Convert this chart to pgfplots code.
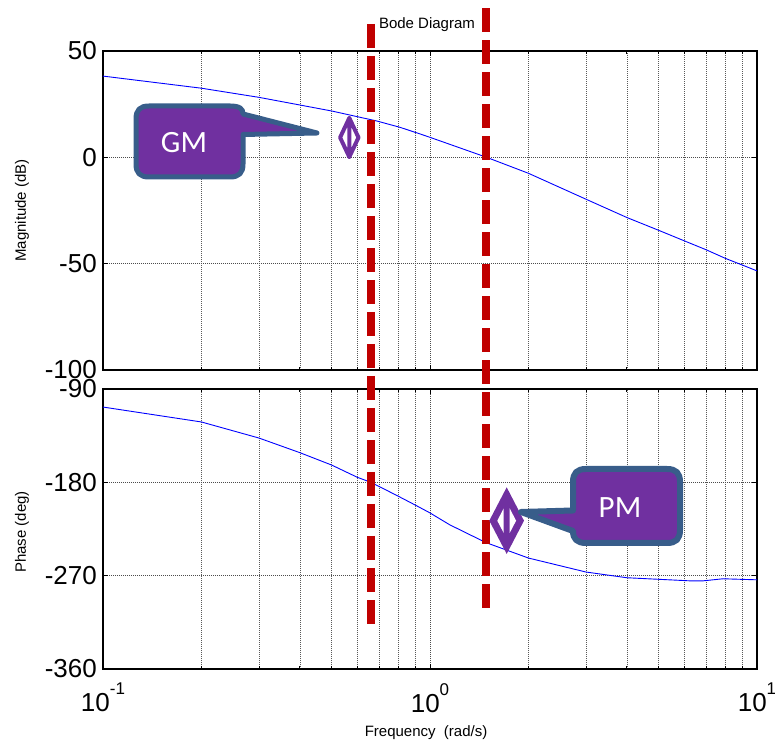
\documentclass[border=0pt]{standalone}
\usepackage{fontspec}
\setmainfont{Liberation Sans}
\newfontfamily\calibri{Carlito}
\usepackage{pgfplots}
\pgfplotsset{compat=1.18}
\definecolor{bodeblue}{RGB}{0,0,255}
\definecolor{marginred}{RGB}{192,0,0}
\definecolor{callfill}{RGB}{112,48,160}
\definecolor{callborder}{RGB}{56,93,138}
\newcommand\tenpow[1]{10\raisebox{17bp}{\fontsize{17bp}{17bp}\selectfont #1}}

\begin{document}
\begin{tikzpicture}
\useasboundingbox (0,0) rectangle (775bp,745bp);

% ---------- magnitude ----------
\begin{axis}[
  scale only axis, width=654bp, xmode=log, xmin=0.1, xmax=10,
  xtick={0.1,1,10},
  minor xtick={0.2,0.3,0.4,0.5,0.6,0.7,0.8,0.9,2,3,4,5,6,7,8,9},
  grid=both,
  major grid style={black!70, line width=0.7bp, dash pattern=on 1bp off 1bp},
  minor grid style={black!65, line width=0.7bp, dash pattern=on 1bp off 1bp},
  axis line style={line width=1.5bp},
  major tick length=5bp, minor tick length=3bp,
  tick style={black, line width=0.8bp},
  tick align=inside,
  tick label style={font=\fontsize{26bp}{26bp}\selectfont},
  yticklabel style={anchor=east, inner sep=0pt, xshift=-6bp},
  label style={font=\fontsize{15bp}{15bp}\selectfont},
  at={(103bp,375bp)}, anchor=south west, height=319bp,
  ymin=-100, ymax=50, ytick={-100,-50,0,50}, yticklabels={-100,-50,0,50},
  xticklabels={,,},
  ylabel={Magnitude (dB)},
  ylabel style={at={(axis description cs:-0.124,0.5)}, anchor=center},
  title={Bode Diagram},
  title style={at={(axis description cs:0.4954,1.063)}, anchor=center, font=\fontsize{15bp}{15bp}\selectfont},
]
\addplot[bodeblue, line width=0.9bp] coordinates {
 (0.1,38.2) (0.2,32.5) (0.3,28.2) (0.4,24.6) (0.5,21.8) (0.6,19.1)
 (0.687,17.1) (0.81,14.1) (0.932,11.0) (1.0,9.4) (1.49,0) (2.0,-7.5)
 (3.0,-19.7) (4.0,-28.3) (5.0,-34.3) (6.0,-39.3) (7.0,-43.5) (8.0,-47.5)
 (9.0,-50.6) (10,-53.4)};
\coordinate (gmtop) at (axis cs:0.660,62.7);
\coordinate (pmtop) at (axis cs:1.483,70.2);
\end{axis}

% ---------- phase ----------
\begin{axis}[
  scale only axis, width=654bp, xmode=log, xmin=0.1, xmax=10,
  xtick={0.1,1,10},
  minor xtick={0.2,0.3,0.4,0.5,0.6,0.7,0.8,0.9,2,3,4,5,6,7,8,9},
  grid=both,
  major grid style={black!70, line width=0.7bp, dash pattern=on 1bp off 1bp},
  minor grid style={black!65, line width=0.7bp, dash pattern=on 1bp off 1bp},
  axis line style={line width=1.5bp},
  major tick length=5bp, minor tick length=3bp,
  tick style={black, line width=0.8bp},
  tick align=inside,
  tick label style={font=\fontsize{26bp}{26bp}\selectfont},
  yticklabel style={anchor=east, inner sep=0pt, xshift=-6bp},
  label style={font=\fontsize{15bp}{15bp}\selectfont},
  at={(103bp,76bp)}, anchor=south west, height=280bp,
  ymin=-360, ymax=-90, ytick={-360,-270,-180,-90}, yticklabels={-360,-270,-180,-90},
  xticklabels={\tenpow{-1},\tenpow{0},\tenpow{1}},
  xticklabel style={anchor=north, inner sep=0pt, yshift=-14bp},
  ylabel={Phase (deg)},
  ylabel style={at={(axis description cs:-0.124,0.489)}, anchor=center},
  xlabel={Frequency\ \ (rad/s)},
  xlabel style={at={(axis description cs:0.494,-0.2286)}, anchor=center},
]
\addplot[bodeblue, line width=0.9bp] coordinates {
 (0.1,-107.4) (0.2,-121.8) (0.3,-137.3) (0.4,-151.4) (0.5,-163.3) (0.6,-175.2)
 (0.66,-180) (0.8,-193.4) (0.9,-201.8) (1.0,-209.5) (1.15,-221) (1.48,-238)
 (2.0,-253) (3.0,-266.5) (4.0,-272) (6.24,-275) (6.84,-275) (7.87,-273) (10,-274)};
\coordinate (gmbot) at (axis cs:0.660,-316.6);
\coordinate (pmbot) at (axis cs:1.483,-301.2);
\end{axis}

% ---------- margin markers ----------
\draw[marginred, line width=8bp, dash pattern=on 24bp off 8bp] (gmtop) -- (gmbot);
\draw[marginred, line width=8bp, dash pattern=on 24bp off 8bp] (pmtop) -- (pmbot);

\begin{scope}[x=1bp, y=-1bp, yshift=745bp]
  % GM arrow
  \draw[callfill, line width=4bp, line join=round, line cap=round]
    (349.3,118) -- (358.5,137.5) -- (349.3,157) -- (340.1,137.5) -- cycle
    (349.3,118) -- (349.3,157);
  % GM callout
  \draw[line width=5bp, draw=callborder, fill=callfill, line join=round]
    (149,106) -- (230,106) .. controls (240,106) and (243,109) .. (243,114)
    -- (317,133) -- (243,134.5) -- (243,164)
    .. controls (243,173) and (239,177) .. (230,177) -- (149,177)
    .. controls (140,177) and (136,173) .. (136,164) -- (136,119)
    .. controls (136,110) and (140,106) .. (149,106) -- cycle;
  \node[text=white, font=\calibri\fontsize{31bp}{31bp}\selectfont, inner sep=0pt] at (184,142.7) {GM};

  % PM arrow
  \fill[callfill] (506.7,487.3) -- (524,520.7) -- (506.7,554) -- (489.3,520.7) -- cycle;
  \fill[white] (497.3,520.7) -- (503.7,508.4) -- (503.7,533) -- cycle;
  \fill[white] (516.1,520.7) -- (509.7,508.4) -- (509.7,533) -- cycle;
  % PM callout
  \draw[line width=6bp, draw=callborder, fill=callfill, line join=round]
    (586,469) -- (667,469) .. controls (676,469) and (680,473) .. (680,482)
    -- (680,530) .. controls (680,539) and (676,543) .. (667,543)
    -- (586,543) .. controls (577,543) and (573,539) .. (573,531)
    -- (521,512) -- (573,510.5) -- (573,482)
    .. controls (573,473) and (577,469) .. (586,469) -- cycle;
  \node[text=white, font=\calibri\fontsize{31bp}{31bp}\selectfont, inner sep=0pt] at (620,507.5) {PM};
\end{scope}
\end{tikzpicture}
\end{document}
